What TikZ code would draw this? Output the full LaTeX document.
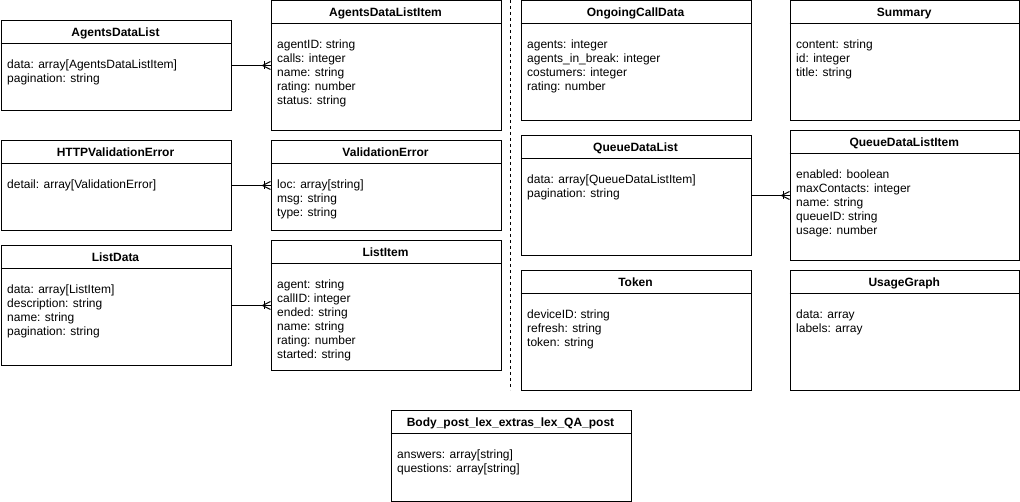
\documentclass[tikz,border=0pt]{standalone}
\usepackage{fontspec}
\setmainfont{Liberation Sans}
\usetikzlibrary{calc}
\tikzset{
  ebox/.style={draw, line width=1pt, inner sep=0pt, fill=white},
  etitle/.style={font=\fontsize{12}{14}\selectfont\bfseries, inner sep=0pt, anchor=base},
  ebody/.style={font=\fontsize{12}{14}\selectfont, inner sep=0pt, align=left, anchor=north west},
  rel/.style={line width=1pt},
}
\newcommand\entity[7]{%
  \node[ebox, minimum width=#4pt, minimum height=#5pt, anchor=north west] (#1) at (#2,#3) {};
  \draw[line width=1pt] (#2,#3+23) -- ++(#4,0);
  \node[etitle] (#1-t) at (#2+#4/2,#3+16) {#6};
  \node[ebody] (#1-b) at (#2+6.5,#3+39.5) {#7};
}
\begin{document}
\begin{tikzpicture}[x=1pt,y=-1pt]
\useasboundingbox (0,0) rectangle (1020,502);
\entity{adl}{0.5}{20.5}{230}{90}{AgentsDataList}{data: array[AgentsDataListItem]\\pagination: string}
\entity{adli}{270.5}{0.5}{230}{130}{AgentsDataListItem}{agentID: string\\calls: integer\\name: string\\rating: number\\status: string}
\entity{hve}{0.5}{140.5}{230}{90}{HTTPValidationError}{detail: array[ValidationError]}
\entity{ve}{270.5}{140.5}{230}{90}{ValidationError}{loc: array[string]\\msg: string\\type: string}
\entity{ld}{0.5}{245.5}{230}{120}{ListData}{data: array[ListItem]\\description: string\\name: string\\pagination: string}
\entity{li}{270.5}{240.5}{230}{130}{ListItem}{agent: string\\callID: integer\\ended: string\\name: string\\rating: number\\started: string}
\entity{ocd}{520.5}{0.5}{230}{120}{OngoingCallData}{agents: integer\\agents\_in\_break: integer\\costumers: integer\\rating: number}
\entity{qdl}{520.5}{135.5}{230}{120}{QueueDataList}{data: array[QueueDataListItem]\\pagination: string}
\entity{tok}{520.5}{270.5}{230}{120}{Token}{deviceID: string\\refresh: string\\token: string}
\entity{sum}{789.5}{0.5}{229.5}{120}{Summary}{content: string\\id: integer\\title: string}
\entity{qdli}{789.5}{130.5}{229.5}{130}{QueueDataListItem}{enabled: boolean\\maxContacts: integer\\name: string\\queueID: string\\usage: number}
\entity{ug}{789.5}{270.5}{229.5}{120}{UsageGraph}{data: array\\labels: array}
\entity{body}{390.5}{410.5}{240}{90}{Body\_post\_lex\_extras\_lex\_QA\_post}{answers: array[string]\\questions: array[string]}
% relations
\draw[rel] (adl.east) -- (adl.east -| adli.west);
\draw[rel] (hve.east) -- (hve.east -| ve.west);
\draw[rel] (ld.east) -- (ld.east -| li.west);
\draw[rel] (qdl.east) -- (qdl.east -| qdli.west);
\foreach \t/\y in {adli/65.5, ve/185.5, li/305.5, qdli/195.5}{
  \coordinate (e) at (\t.west |- 0,\y);
  \draw[rel] ($(e)+(-6,-4)$) -- ++(0,8);
  \draw[rel] ($(e)+(-8,0)$) -- ($(e)+(0,-4)$);
  \draw[rel] ($(e)+(-8,0)$) -- ($(e)+(0,4)$);
}
% separator
\coordinate (sepA) at (510.5,0);
\coordinate (sepB) at (510.5,390);
\draw[line width=1pt, dash pattern=on 3pt off 3pt] (sepA) -- (sepB);
\end{tikzpicture}
\end{document}
